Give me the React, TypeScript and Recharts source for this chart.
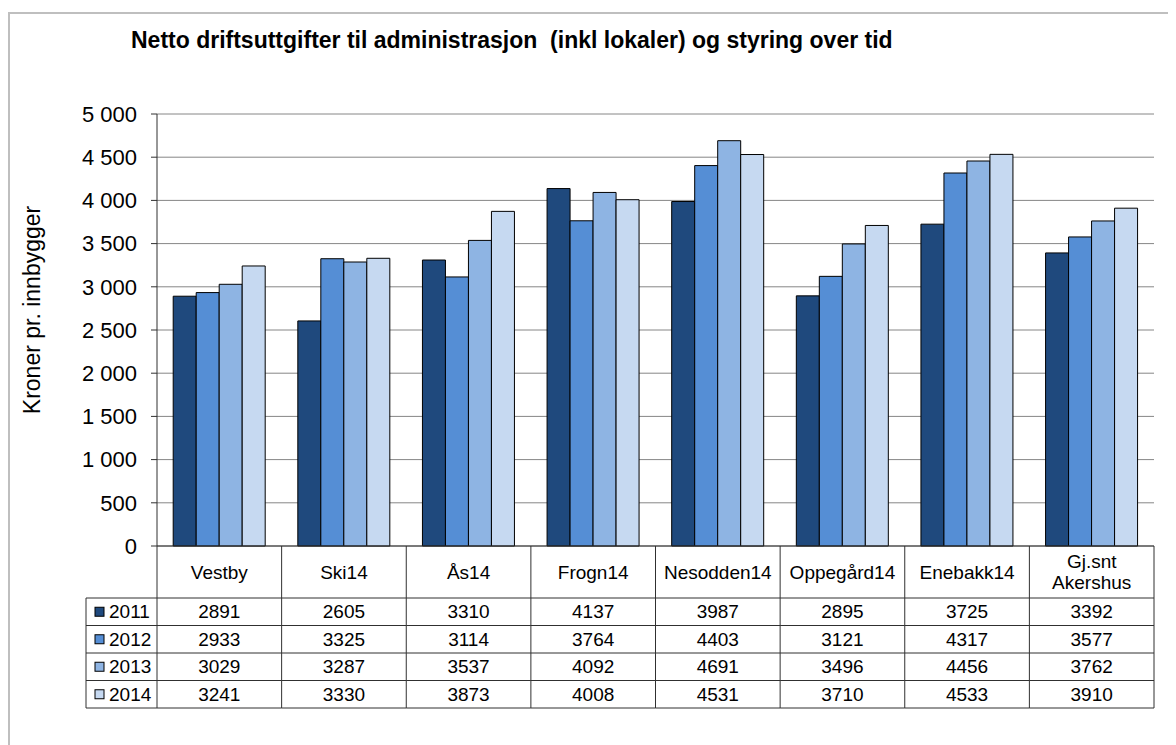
import React from "react";
import { Bar, BarChart, CartesianGrid, XAxis, YAxis } from "recharts";

const categories = ["Vestby", "Ski14", "Ås14", "Frogn14", "Nesodden14", "Oppegård14", "Enebakk14", "Gj.snt Akershus"];
const years = ["2011", "2012", "2013", "2014"];
const v2011 = [2891, 2605, 3310, 4137, 3987, 2895, 3725, 3392];
const v2012 = [2933, 3325, 3114, 3764, 4403, 3121, 4317, 3577];
const v2013 = [3029, 3287, 3537, 4092, 4691, 3496, 4456, 3762];
const v2014 = [3241, 3330, 3873, 4008, 4531, 3710, 4533, 3910];
const yTicks = [0, 500, 1000, 1500, 2000, 2500, 3000, 3500, 4000, 4500, 5000];

const series = [v2011, v2012, v2013, v2014];
const colors = ["#1F497D", "#558ED5", "#8EB4E3", "#C6D9F1"];

const data = categories.map((name, i) => ({
  name,
  y2011: v2011[i],
  y2012: v2012[i],
  y2013: v2013[i],
  y2014: v2014[i],
}));

const W = 1168;
const H = 737;
const LEFT = 149;
const RIGHT = 22;
const TOP = 106;
const AXIS_H = 199;
const PLOT_W = W - LEFT - RIGHT;
const BW = PLOT_W / categories.length;
const HEAD_H = 52;
const ROW_H = 27.5;
const LEG_W = 71;
const FONT = "'Liberation Sans', Arial, sans-serif";
const LINE = "#303030";

const fmt = (v: number) =>
  v >= 1000 ? `${Math.floor(v / 1000)} ${String(v % 1000).padStart(3, "0")}` : String(v);

function TableTick(props: any) {
  const { x, y, payload, index } = props;
  const left = x - BW / 2;
  const right = x + BW / 2;
  const bottom = y + HEAD_H + ROW_H * 4;
  const label: string = payload.value;
  const lines = label.includes(" ") ? label.split(" ") : [label];
  const rowLeft = index === 0 ? left - LEG_W : left;

  return (
    <g fontFamily={FONT} fontSize={19} fill="#000">
      <line x1={right} y1={y} x2={right} y2={bottom} stroke={LINE} />
      {index === 0 && (
        <>
          <line x1={left} y1={y} x2={left} y2={bottom} stroke={LINE} />
          <line x1={rowLeft} y1={y + HEAD_H} x2={rowLeft} y2={bottom} stroke={LINE} />
        </>
      )}
      {[0, 1, 2, 3, 4].map((r) => (
        <line
          key={r}
          x1={rowLeft}
          y1={y + HEAD_H + ROW_H * r}
          x2={right}
          y2={y + HEAD_H + ROW_H * r}
          stroke={LINE}
        />
      ))}
      {lines.map((t, k) => (
        <text
          key={t}
          x={x}
          y={y + HEAD_H / 2 + (k - (lines.length - 1) / 2) * 21}
          textAnchor="middle"
          dominantBaseline="central"
        >
          {t}
        </text>
      ))}
      {series.map((s, r) => (
        <text
          key={r}
          x={x}
          y={y + HEAD_H + ROW_H * r + ROW_H / 2}
          textAnchor="middle"
          dominantBaseline="central"
        >
          {s[index]}
        </text>
      ))}
      {index === 0 &&
        years.map((yr, r) => (
          <g key={yr}>
            <rect
              x={rowLeft + 9}
              y={y + HEAD_H + ROW_H * r + ROW_H / 2 - 4.5}
              width={9}
              height={9}
              fill={colors[r]}
              stroke="#000"
            />
            <text x={rowLeft + 23} y={y + HEAD_H + ROW_H * r + ROW_H / 2} dominantBaseline="central">
              {yr}
            </text>
          </g>
        ))}
    </g>
  );
}

function YLabel() {
  return (
    <text
      x={24}
      y={302}
      transform="rotate(-90 24 302)"
      textAnchor="middle"
      dominantBaseline="central"
      fontFamily={FONT}
      fontSize={23}
      fill="#000"
    >
      Kroner pr. innbygger
    </text>
  );
}

export default function App() {
  return (
    <div style={{ position: "relative", width: W, height: H }}>
      <div
        style={{
          position: "absolute",
          left: 0,
          top: 4,
          width: W - 2,
          height: H - 4,
          borderLeft: "2px solid #BFBFBF",
          borderTop: "2px solid #BFBFBF",
          boxSizing: "border-box",
        }}
      />
      <div
        style={{
          position: "absolute",
          left: 123,
          top: 18,
          fontFamily: FONT,
          fontWeight: "bold",
          fontSize: 23,
          lineHeight: "28px",
          whiteSpace: "pre",
          color: "#000",
        }}
      >
        {"Netto driftsuttgifter til administrasjon  (inkl lokaler) og styring over tid"}
      </div>
      <BarChart
        width={W}
        height={H}
        data={data}
        margin={{ top: TOP, right: RIGHT, bottom: 0, left: 0 }}
        barCategoryGap="13%"
        barGap={0}
        style={{ position: "absolute", left: 0, top: 0 }}
      >
        <CartesianGrid vertical={false} stroke="#868686" />
        <XAxis
          dataKey="name"
          height={AXIS_H}
          interval={0}
          tickSize={0}
          tickMargin={0}
          tickLine={false}
          axisLine={{ stroke: LINE }}
          tick={(p: any) => <TableTick {...p} />}
        />
        <YAxis
          width={LEFT}
          domain={[0, 5000]}
          ticks={yTicks}
          interval={0}
          tickFormatter={fmt}
          tickSize={6}
          tickMargin={14}
          axisLine={{ stroke: LINE }}
          tickLine={{ stroke: LINE }}
          tick={{ fill: "#000", fontSize: 22, fontFamily: FONT }}
          label={<YLabel />}
        />
        <YAxis
          yAxisId="r"
          orientation="right"
          width={0}
          domain={[0, 5000]}
          tick={false}
          tickLine={false}
          axisLine={{ stroke: "#A0A0A0" }}
        />
        {years.map((yr, i) => (
          <Bar
            key={yr}
            dataKey={`y${yr}`}
            name={yr}
            fill={colors[i]}
            stroke="#000"
            strokeWidth={1}
            isAnimationActive={false}
          />
        ))}
      </BarChart>
    </div>
  );
}
